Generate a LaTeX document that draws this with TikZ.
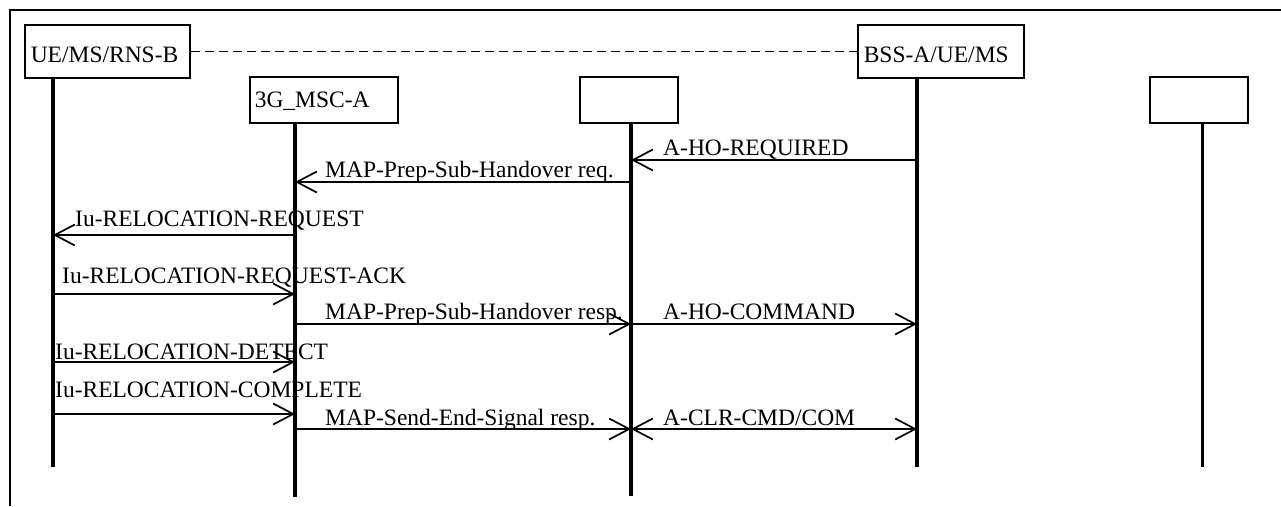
\documentclass[tikz,border=0pt]{standalone}
\usepackage{fontspec}
\setmainfont{Liberation Serif}
\usetikzlibrary{arrows.meta}
\begin{document}
\begin{tikzpicture}[x=1pt,y=-1pt,
  txt/.style={font=\fontsize{23.5}{28}\selectfont},
  box/.style={draw, line width=1.5pt, rectangle, inner sep=0pt, anchor=north west, align=left, txt},
  life/.style={line width=3.5pt},
  msg/.style={line width=1.5pt, -{Straight Barb[length=20pt,width=21pt,line width=1.7pt]}},
  bimsg/.style={line width=1.5pt, {Straight Barb[length=20pt,width=21pt,line width=1.7pt]}-{Straight Barb[length=20pt,width=21pt,line width=1.7pt]}},
  lbl/.style={anchor=base west, inner sep=0pt, txt}]
\useasboundingbox (0,0) rectangle (1281,506);
% frame
\draw[line width=2pt] (10,506) -- (10,10) -- (1281,10);
% boxes
\node[box, text width=153pt, text height=38pt, text depth=15pt, inner xsep=6pt] (ue) at (24,24) {UE/MS/RNS-B};
\node[box, text width=154pt, text height=38pt, text depth=15pt, inner xsep=6pt] (bss) at (857,24) {BSS-A/UE/MS};
\node[box, text width=138pt, text height=31pt, text depth=15pt, inner xsep=5pt] (msc) at (249,76) {3G\_MSC-A};
\node[box, minimum width=98pt, minimum height=46pt] (b3) at (579,76) {};
\node[box, minimum width=98pt, minimum height=46pt] (b4) at (1149,76) {};
% dashed link
\draw[line width=1.5pt, dash pattern=on 9pt off 5pt] (ue.east) -- (bss.west);
% lifelines
\coordinate (lue) at (53,77);   \coordinate (eue) at (53,467);
\coordinate (lmsc) at (295,122); \coordinate (emsc) at (295,497);
\coordinate (lb3) at (631,122);  \coordinate (eb3) at (631,496);
\coordinate (lbss) at (917,77);  \coordinate (ebss) at (917,467);
\coordinate (lb4) at (1202,122); \coordinate (eb4) at (1202,467);
\draw[life] (lue) -- (eue);
\draw[life] (lmsc) -- (emsc);
\draw[life] (lb3) -- (eb3);
\draw[life] (lbss) -- (ebss);
\draw[line width=3pt] (lb4) -- (eb4);
% message levels
\coordinate (y1) at (0,160);
\coordinate (y2) at (0,182);
\coordinate (y3) at (0,235);
\coordinate (y4) at (0,294);
\coordinate (y5) at (0,324);
\coordinate (y6) at (0,362);
\coordinate (y7) at (0,414);
\coordinate (y8) at (0,429);
% messages
\draw[msg] (lbss |- y1) -- (lb3 |- y1);
\draw[msg] (lb3 |- y2) -- (lmsc |- y2);
\draw[msg] (lmsc |- y3) -- (lue |- y3);
\draw[msg] (lue |- y4) -- (lmsc |- y4);
\draw[msg] (lmsc |- y5) -- (lb3 |- y5);
\draw[msg] (lb3 |- y5) -- (lbss |- y5);
\draw[msg] (lue |- y6) -- (lmsc |- y6);
\draw[msg] (lue |- y7) -- (lmsc |- y7);
\draw[msg] (lmsc |- y8) -- (lb3 |- y8);
\draw[bimsg] (lb3 |- y8) -- (lbss |- y8);
% labels
\node[lbl] (t1) at (663,155) {A-HO-REQUIRED};
\node[lbl] (t2) at (325,177) {MAP-Prep-Sub-Handover req.};
\node[lbl] (t3) at (75,226) {Iu-RELOCATION-REQUEST};
\node[lbl] (t4) at (62,283) {Iu-RELOCATION-REQUEST-ACK};
\node[lbl] (t5) at (325,319) {MAP-Prep-Sub-Handover resp.};
\node[lbl] (t6) at (663,319) {A-HO-COMMAND};
\node[lbl] (t7) at (55,359) {Iu-RELOCATION-DETECT};
\node[lbl] (t8) at (55,397) {Iu-RELOCATION-COMPLETE};
\node[lbl] (t9) at (325,425) {MAP-Send-End-Signal resp.};
\node[lbl] (t10) at (663,425) {A-CLR-CMD/COM};
\end{tikzpicture}
\end{document}
